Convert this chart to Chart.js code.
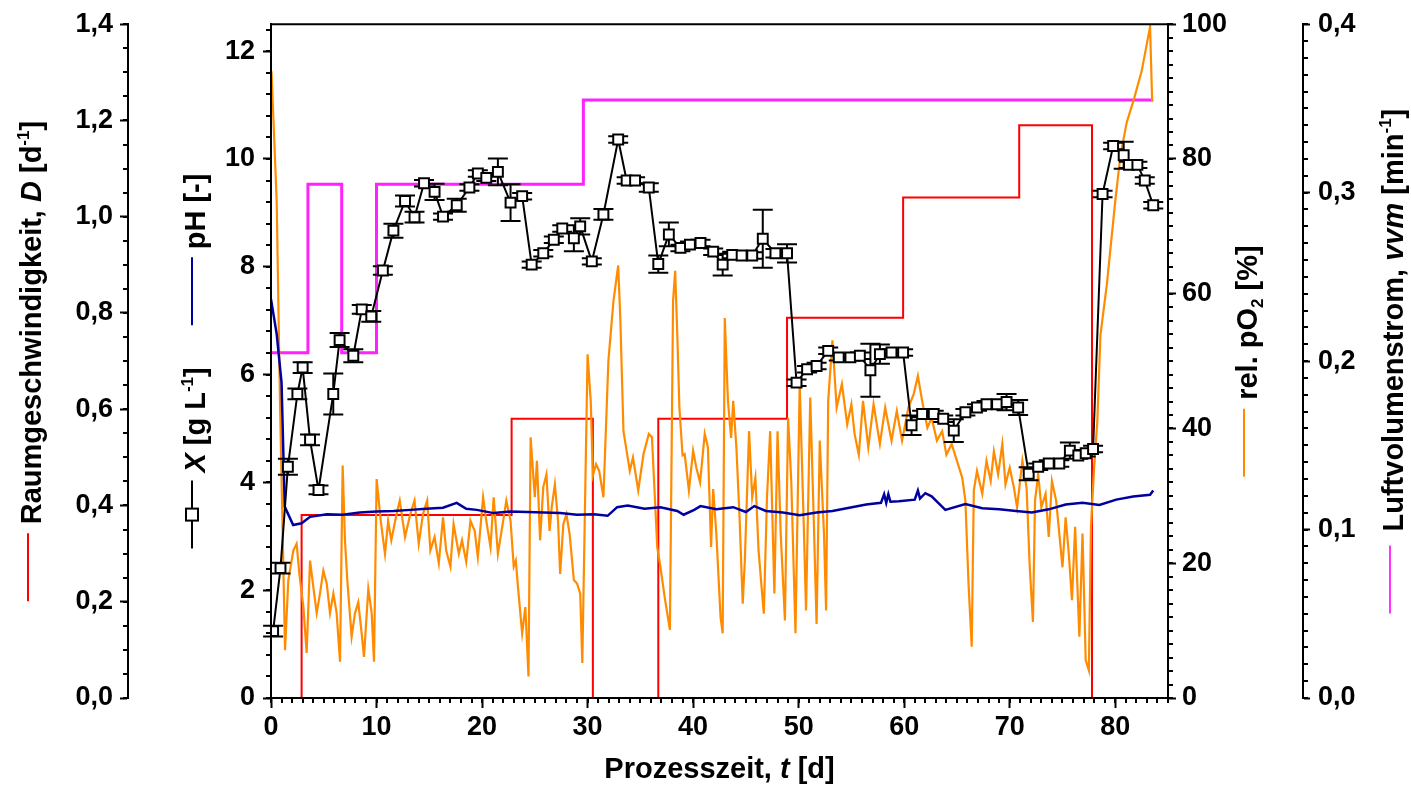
<!DOCTYPE html>
<html>
<head>
<meta charset="utf-8">
<script src="https://cdn.jsdelivr.net/npm/chart.js@4.4.0/dist/chart.umd.min.js"></script>
<style>
  html, body { margin: 0; padding: 0; background: #fff; }
</style>
</head>
<body>
<canvas id="chart" width="1411" height="790"></canvas>
<script>
// Biomassekonzentration X [g/L] mit Standardabweichung
const xTime = [0.2, 0.9, 1.6, 2.5, 3.0, 3.7, 4.5, 5.9, 6.5, 7.8, 8.6, 9.5, 10.6, 11.6, 12.7, 13.6, 14.5, 15.5, 16.3, 17.6,
  18.8, 19.6, 20.4, 21.5, 22.7, 23.8, 24.7, 25.8, 26.8, 27.6, 28.7, 29.3, 30.4, 31.5, 32.9, 33.7, 34.5, 35.8, 36.7, 37.7,
  38.8, 39.7, 40.7, 41.9, 42.8, 43.7, 44.6, 45.6, 46.6, 47.8, 48.9, 49.8, 50.8, 51.7, 52.8, 53.8, 54.9, 55.8, 56.8, 57.7,
  58.8, 59.9, 60.7, 61.7, 62.8, 63.7, 64.7, 65.8, 66.9, 67.8, 68.8, 69.7, 70.8, 71.8, 72.7, 73.7, 74.7, 75.7, 76.5, 77.2,
  77.9, 78.8, 79.8, 80.8, 81.3, 82.1, 82.8, 83.6];
const xConc = [1.24, 2.41, 4.29, 5.64, 6.13, 4.79, 3.86, 5.64, 6.64, 6.35, 7.21, 7.08, 7.93, 8.67, 9.22, 8.92, 9.55, 9.39, 8.93, 9.14,
  9.47, 9.73, 9.65, 9.76, 9.19, 9.31, 8.04, 8.25, 8.5, 8.71, 8.53, 8.75, 8.1, 8.97, 10.36, 9.6, 9.6, 9.47, 8.05, 8.6,
  8.35, 8.41, 8.44, 8.28, 8.04, 8.22, 8.21, 8.21, 8.52, 8.25, 8.25, 5.85, 6.1, 6.16, 6.44, 6.32, 6.32, 6.35, 6.08, 6.38,
  6.41, 6.41, 5.06, 5.27, 5.27, 5.18, 4.96, 5.3, 5.39, 5.45, 5.45, 5.49, 5.39, 4.16, 4.29, 4.35, 4.35, 4.59, 4.5, 4.54,
  4.62, 9.35, 10.24, 10.07, 9.89, 9.89, 9.6, 9.14];
const xErr = [0.1, 0.1, 0.15, 0.1, 0.1, 0.1, 0.08, 0.38, 0.13, 0.12, 0.08, 0.1, 0.08, 0.13, 0.1, 0.1, 0.06, 0.15, 0.06, 0.12,
  0.06, 0.06, 0.06, 0.25, 0.34, 0.06, 0.06, 0.06, 0.06, 0.06, 0.24, 0.15, 0.06, 0.1, 0.06, 0.06, 0.06, 0.08, 0.16, 0.22,
  0.06, 0.06, 0.06, 0.06, 0.2, 0.06, 0.06, 0.06, 0.54, 0.08, 0.17, 0.06, 0.06, 0.06, 0.06, 0.06, 0.06, 0.06, 0.49, 0.18,
  0.06, 0.06, 0.18, 0.06, 0.06, 0.06, 0.21, 0.06, 0.06, 0.06, 0.06, 0.15, 0.14, 0.12, 0.06, 0.06, 0.06, 0.15, 0.06, 0.06,
  0.06, 0.06, 0.06, 0.25, 0.06, 0.06, 0.06, 0.06];

// pH-Verlauf [t, pH]
const phPoints = [[0, 7.4], [0.54, 6.75], [1.0, 5.85], [1.3, 3.55], [2.1, 3.21], [2.9, 3.24], [3.7, 3.36], [5.3, 3.41],
  [6.8, 3.40], [8.4, 3.44], [10.0, 3.46], [11.6, 3.47], [13.2, 3.49], [14.7, 3.51], [16.3, 3.53], [17.6, 3.62], [18.5, 3.51],
  [19.5, 3.49], [21.1, 3.43], [22.7, 3.46], [24.3, 3.45], [25.8, 3.44], [27.4, 3.43], [29.0, 3.40], [30.6, 3.41], [31.9, 3.38],
  [32.8, 3.54], [33.8, 3.57], [35.4, 3.51], [36.9, 3.54], [38.5, 3.47], [39.1, 3.40], [40.1, 3.49], [40.7, 3.56], [42.2, 3.50],
  [43.8, 3.54], [45.0, 3.45], [45.8, 3.56], [46.9, 3.47], [48.5, 3.44], [50.1, 3.39], [51.7, 3.44], [53.2, 3.47], [54.8, 3.53],
  [56.4, 3.59], [57.8, 3.62], [58.1, 3.78], [58.3, 3.62], [58.5, 3.78], [58.7, 3.64], [59.5, 3.65], [61.0, 3.68], [61.3, 3.85],
  [61.5, 3.70], [62.0, 3.80], [62.6, 3.74], [63.9, 3.49], [65.8, 3.60], [67.4, 3.52], [69.0, 3.50], [70.6, 3.47], [72.1, 3.44],
  [73.7, 3.50], [75.3, 3.59], [76.9, 3.62], [78.5, 3.58], [80.1, 3.68], [81.7, 3.74], [83.3, 3.77], [83.6, 3.85]];

// Gelöstsauerstoff rel. pO2 [t, %]
const po2Points = [[0.05, 93], [0.54, 73.7], [0.85, 44], [1.33, 7.1], [1.64, 17.5], [2.12, 21.9], [2.43, 22.9], [2.69, 18.4],
  [3.07, 13.5], [3.38, 6.7], [3.70, 20.4], [4.01, 16.5], [4.33, 12.6], [4.64, 15.5], [4.96, 18.9], [5.28, 17.0], [5.59, 12.6],
  [5.91, 15.5], [6.22, 12.6], [6.54, 5.4], [6.79, 34.5], [7.01, 23.4], [7.23, 17.5], [7.64, 9.1], [7.96, 12.6], [8.27, 14.2],
  [8.59, 9.6], [8.81, 6.1], [9.22, 16.2], [9.54, 12.6], [9.76, 5.4], [10.01, 32.5], [10.4, 26.3], [10.8, 21.4], [11.1, 26.3],
  [11.4, 23.4], [11.9, 27.3], [12.2, 29.3], [12.7, 23.9], [13.2, 27.3], [13.6, 29.3], [14.0, 22.9], [14.4, 27.3], [14.8, 29.3],
  [15.1, 21.9], [15.5, 23.9], [15.9, 20.0], [16.3, 26.8], [16.6, 21.9], [17.0, 19.5], [17.3, 25.8], [17.8, 21.4], [18.1, 23.4],
  [18.5, 20.2], [18.9, 26.3], [19.3, 24.8], [19.6, 20.9], [20.1, 29.8], [20.4, 26.3], [20.8, 22.4], [21.1, 29.8], [21.5, 21.4],
  [21.9, 25.3], [22.3, 29.3], [22.7, 26.3], [23.0, 19.5], [23.2, 20.4], [23.4, 16.5], [23.8, 9.6], [24.1, 13.5], [24.4, 3.2],
  [24.6, 38.7], [24.8, 34.2], [25.0, 29.8], [25.2, 35.2], [25.5, 23.4], [25.8, 31.3], [26.1, 33.2], [26.4, 24.8], [26.6, 28.3],
  [26.9, 31.7], [27.2, 26.3], [27.4, 18.4], [27.7, 25.8], [28.0, 27.3], [28.3, 24.3], [28.7, 17.5], [29.0, 17.0], [29.3, 15.5],
  [29.5, 5.2], [30.0, 51], [30.3, 44], [30.5, 33], [30.8, 34.7], [31.1, 33.7], [31.5, 29.8], [31.97, 50.0], [32.45, 58.9],
  [32.9, 64.2], [33.1, 56.4], [33.4, 39.6], [34.0, 33.7], [34.3, 35.7], [34.8, 30.8], [35.3, 36.2], [35.8, 39.2], [36.1, 38.7],
  [36.6, 22.4], [36.9, 19.5], [37.3, 15.0], [37.8, 10.1], [38.1, 58.9], [38.3, 63.4], [38.5, 53.9], [38.7, 43.1], [39.0, 36],
  [39.2, 36.2], [39.6, 30.8], [40.0, 36.7], [40.3, 34.2], [40.66, 32.0], [41.1, 39.2], [41.4, 37.2], [41.7, 22.4], [41.9, 31.0],
  [42.2, 24.4], [42.6, 12.0], [42.8, 9.6], [43.0, 56.4], [43.3, 44.1], [43.6, 38.6], [43.8, 44.1], [44.1, 37.2], [44.4, 26.8],
  [44.7, 14.0], [44.9, 20.4], [45.3, 39.6], [45.6, 29.8], [45.9, 32.7], [46.2, 21.9], [46.7, 12.5], [47.0, 29.8], [47.3, 39.6],
  [47.7, 15.5], [48.0, 39.6], [48.3, 24.4], [48.7, 11.5], [49.0, 41.6], [49.3, 32.2], [49.7, 9.6], [50.1, 46.6], [50.5, 24.8],
  [50.7, 13.0], [51.1, 44.6], [51.4, 28.2], [51.7, 11.0], [52.0, 38.2], [52.4, 24.4], [52.6, 13.0], [52.8, 44.1], [53.2, 53.1],
  [53.6, 43.1], [54.1, 46.6], [54.6, 40.6], [55.0, 43.6], [55.3, 39.2], [55.7, 36.1], [56.1, 44.1], [56.6, 37.2], [57.1, 43.6],
  [57.7, 37.7], [58.2, 43.1], [58.8, 38.2], [59.3, 42.6], [59.8, 38.2], [60.4, 43.1], [60.9, 45.1], [61.3, 47.8], [61.7, 44.1],
  [62.2, 40.1], [62.6, 41.6], [63.1, 38.2], [63.6, 39.6], [64.0, 36.1], [64.5, 37.7], [65.0, 35.2], [65.5, 32.7], [65.8, 29.3],
  [66.1, 16.9], [66.4, 7.6], [66.6, 30.8], [66.9, 33.7], [67.4, 30.3], [67.8, 35.2], [68.2, 32.2], [68.5, 36.6], [68.9, 33.2],
  [69.3, 37.7], [69.6, 31.7], [70.0, 34.2], [70.4, 31.2], [70.7, 28.3], [71.2, 35.2], [71.6, 31.2], [71.9, 19.4], [72.2, 11.3],
  [72.4, 29.3], [72.7, 33.2], [73.0, 28.3], [73.4, 30.3], [73.7, 23.9], [74.0, 32.2], [74.4, 29.3], [74.7, 24.4], [75.0, 19.4],
  [75.3, 26.8], [75.6, 21.4], [75.9, 14.5], [76.2, 25.4], [76.6, 9.1], [76.9, 24.4], [77.2, 5.6], [77.5, 4.1], [77.7, 25.4],
  [78.0, 34.2], [78.3, 41], [78.6, 53.9], [79.2, 61.3], [80.0, 73.7], [80.5, 80.6], [81.1, 85.5], [81.7, 88.5], [82.5, 93],
  [83.3, 99.6], [83.5, 88.5]];

// Raumgeschwindigkeit D [1/d], jeweils ab Zeitpunkt gültig
const dTime = [0, 2.9, 22.8, 30.5, 36.7, 48.9, 59.9, 70.9, 77.8, 83.6];
const dVal = [0, 0.38, 0.58, 0, 0.58, 0.79, 1.04, 1.19, 0, 0];

// Luftvolumenstrom vvm [1/min], jeweils ab Zeitpunkt gültig
const vvmTime = [0, 3.5, 6.7, 10.0, 29.6, 83.6];
const vvmVal = [0.205, 0.305, 0.205, 0.305, 0.355, 0.355];

// Achsen
const xTicks = { min: 0, max: 85, step: 10, minor: 1 };
const xAxisTicks = { min: 0, max: 12.5, step: 2, minor: 0.4 };
const dAxisTicks = { min: 0, max: 1.4, step: 0.2, minor: 0.05 };
const po2AxisTicks = { min: 0, max: 100, step: 20, minor: 2 };
const vvmAxisTicks = { min: 0, max: 0.4, step: 0.1, minor: 0.01 };

const FONT = '"Liberation Sans", Arial, sans-serif';
const TICK_SIZE = 27;
const TITLE_SIZE = 29;
const SYM = 68;

function comma(v) { return v.toFixed(1).replace('.', ','); }

function axis(t, pos, weight, width, tickLen, pad, fmt) {
  return {
    type: 'linear', position: pos, weight: weight,
    min: t.min, max: t.max,
    afterFit: (s) => { if (pos === 'bottom') s.height = width; else s.width = width; },
    grid: { display: true, drawOnChartArea: false, drawTicks: true, tickLength: tickLen, color: '#000', tickWidth: 2 },
    border: { display: true, color: '#000', width: 2, z: 1 },
    ticks: {
      stepSize: t.step, includeBounds: false, padding: pad, color: '#000',
      font: { family: FONT, size: TICK_SIZE, weight: 'bold' },
      callback: fmt || ((v) => String(v)),
      maxRotation: 0, autoSkip: false
    }
  };
}

// kleine Zwischenstriche an allen Achsen
const minorTicks = {
  id: 'minorTicks',
  afterDraw(chart) {
    const ctx = chart.ctx;
    const defs = [['x', xTicks], ['yX', xAxisTicks], ['yD', dAxisTicks], ['yP', po2AxisTicks], ['yV', vvmAxisTicks]];
    ctx.save();
    ctx.strokeStyle = '#000';
    ctx.lineWidth = 2;
    defs.forEach(([id, t]) => {
      const s = chart.scales[id];
      const n = Math.round((t.max - t.min) / t.minor);
      ctx.beginPath();
      for (let i = 0; i <= n; i++) {
        const v = t.min + i * t.minor;
        const p = Math.round(s.getPixelForValue(v));
        if (s.position === 'bottom') { ctx.moveTo(p, s.top); ctx.lineTo(p, s.top + 5); }
        else if (s.position === 'left') { ctx.moveTo(s.right, p); ctx.lineTo(s.right - 5, p); }
        else { ctx.moveTo(s.left, p); ctx.lineTo(s.left + 5, p); }
      }
      ctx.stroke();
    });
    // obere Rahmenlinie
    const a = chart.chartArea;
    ctx.beginPath();
    ctx.moveTo(a.left - 1, a.top);
    ctx.lineTo(a.right + 1, a.top);
    ctx.stroke();
    ctx.restore();
  }
};

// Fehlerbalken der Biomasse, unter den Quadraten
const errorBars = {
  id: 'errorBars',
  beforeDatasetDraw(chart, args) {
    if (args.index !== 0) return;
    const ctx = chart.ctx;
    const xs = chart.scales.x, ys = chart.scales.yX;
    ctx.save();
    ctx.strokeStyle = '#000';
    ctx.lineWidth = 2;
    ctx.beginPath();
    xTime.forEach((t, i) => {
      const px = xs.getPixelForValue(t);
      const top = ys.getPixelForValue(xConc[i] + xErr[i]);
      const bot = ys.getPixelForValue(xConc[i] - xErr[i]);
      ctx.moveTo(px, top); ctx.lineTo(px, bot);
      ctx.moveTo(px - 10, top); ctx.lineTo(px + 10, top);
      ctx.moveTo(px - 10, bot); ctx.lineTo(px + 10, bot);
    });
    ctx.stroke();
    ctx.restore();
  }
};

function runFont(r) {
  const size = (r.sup || r.sub) ? Math.round(TITLE_SIZE * 0.6) : TITLE_SIZE;
  return (r.it ? 'italic ' : '') + 'bold ' + size + 'px ' + FONT;
}
function runsWidth(ctx, runs) {
  let w = 0;
  runs.forEach(r => { ctx.font = runFont(r); w += ctx.measureText(r.s).width; });
  return w;
}
function drawRuns(ctx, runs, x, y) {
  ctx.textAlign = 'left';
  ctx.textBaseline = 'alphabetic';
  ctx.fillStyle = '#000';
  runs.forEach(r => {
    ctx.font = runFont(r);
    const dy = r.sup ? -TITLE_SIZE * 0.4 : (r.sub ? TITLE_SIZE * 0.22 : 0);
    ctx.fillText(r.s, x, y + dy);
    x += ctx.measureText(r.s).width;
  });
}
function itemWidth(ctx, it) {
  if (it.line) return SYM;
  if (it.gap) return it.gap;
  return runsWidth(ctx, it.runs);
}
// gedrehter Achsentitel mit Legendensymbol davor
function drawVertical(ctx, bx, cy, items) {
  const total = items.reduce((s, it) => s + itemWidth(ctx, it), 0);
  ctx.save();
  ctx.translate(bx, cy);
  ctx.rotate(-Math.PI / 2);
  let x = -total / 2;
  items.forEach(it => {
    const w = itemWidth(ctx, it);
    if (it.line) {
      ctx.strokeStyle = it.line;
      ctx.lineWidth = 2;
      ctx.beginPath();
      ctx.moveTo(x, -13);
      ctx.lineTo(x + w, -13);
      ctx.stroke();
      if (it.marker) {
        ctx.fillStyle = '#fff';
        ctx.fillRect(x + w / 2 - 6, -19, 12, 12);
        ctx.strokeRect(x + w / 2 - 6, -19, 12, 12);
      }
    } else if (it.runs) {
      drawRuns(ctx, it.runs, x, 0);
    }
    x += w;
  });
  ctx.restore();
}

const titles = {
  id: 'titles',
  afterDraw(chart) {
    const ctx = chart.ctx;
    const a = chart.chartArea;
    const s = chart.scales;
    const cy = (a.top + a.bottom) / 2;

    const xRuns = [{ s: 'Prozesszeit, ' }, { s: 't', it: true }, { s: ' [d]' }];
    ctx.save();
    const w = runsWidth(ctx, xRuns);
    drawRuns(ctx, xRuns, (a.left + a.right) / 2 - w / 2, a.bottom + 80);
    ctx.restore();

    drawVertical(ctx, s.yD.left + 41, cy, [
      { line: '#ff0000' }, { gap: 9 },
      { runs: [{ s: 'Raumgeschwindigkeit, ' }, { s: 'D', it: true }, { s: ' [d' }, { s: '-1', sup: true }, { s: ']' }] }
    ]);
    drawVertical(ctx, s.yX.left + 77, cy, [
      { line: '#000', marker: true }, { gap: 8 },
      { runs: [{ s: 'X', it: true }, { s: ' [g L' }, { s: '-1', sup: true }, { s: ']' }] },
      { gap: 42 },
      { line: '#0000a0' }, { gap: 8 },
      { runs: [{ s: 'pH [-]' }] }
    ]);
    drawVertical(ctx, s.yP.left + 89, cy, [
      { line: '#ff8c00' }, { gap: 9 },
      { runs: [{ s: 'rel. pO' }, { s: '2', sub: true }, { s: ' [%]' }] }
    ]);
    drawVertical(ctx, s.yV.left + 100, cy, [
      { line: '#ff33ff' }, { gap: 14 },
      { runs: [{ s: 'Luftvolumenstrom, ' }, { s: 'vvm', it: true }, { s: ' [min' }, { s: '-1', sup: true }, { s: ']' }] }
    ]);
  }
};

new Chart(document.getElementById('chart'), {
  type: 'line',
  data: {
    datasets: [
      {
        label: 'X', yAxisID: 'yX', order: 0,
        data: xTime.map((t, i) => ({ x: t, y: xConc[i] })),
        borderColor: '#000', borderWidth: 2,
        pointStyle: 'rect', pointRadius: 7, pointBorderWidth: 2,
        pointBackgroundColor: '#fff', pointBorderColor: '#000'
      },
      {
        label: 'pH', yAxisID: 'yX', order: 1,
        data: phPoints.map(p => ({ x: p[0], y: p[1] })),
        borderColor: '#0000a0', borderWidth: 2.5, pointRadius: 0
      },
      {
        label: 'pO2', yAxisID: 'yP', order: 2,
        data: po2Points.map(p => ({ x: p[0], y: p[1] })),
        borderColor: '#ff8c00', borderWidth: 2.2, pointRadius: 0
      },
      {
        label: 'D', yAxisID: 'yD', order: 3, stepped: 'before',
        data: dTime.map((t, i) => ({ x: t, y: dVal[i] })),
        borderColor: '#ff0000', borderWidth: 2, pointRadius: 0
      },
      {
        label: 'vvm', yAxisID: 'yV', order: 4, stepped: 'before',
        data: vvmTime.map((t, i) => ({ x: t, y: vvmVal[i] })),
        borderColor: '#ff22ff', borderWidth: 3, pointRadius: 0
      }
    ]
  },
  options: {
    responsive: false,
    animation: false,
    devicePixelRatio: 1,
    layout: { padding: { top: 23, left: 0, right: 0, bottom: 0 } },
    plugins: { legend: { display: false }, tooltip: { enabled: false } },
    elements: { line: { tension: 0 } },
    scales: {
      x: axis(xTicks, 'bottom', 0, 92, 10, 3),
      yX: axis(xAxisTicks, 'left', 0, 143, 8, 8),
      yD: axis(dAxisTicks, 'left', 1, 128, 8, 7, comma),
      yP: axis(po2AxisTicks, 'right', 0, 135, 8, 6),
      yV: axis(vvmAxisTicks, 'right', 1, 108, 7, 8, comma)
    }
  },
  plugins: [errorBars, minorTicks, titles]
});
</script>
</body>
</html>
